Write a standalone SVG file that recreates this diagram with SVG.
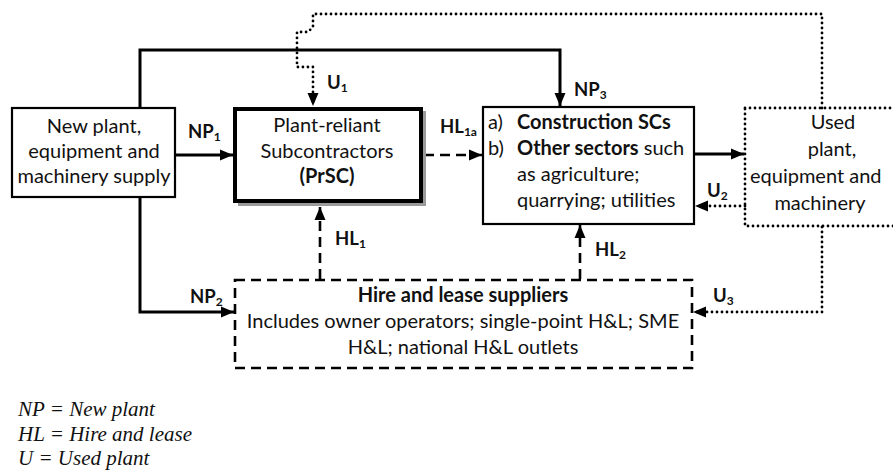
<svg xmlns="http://www.w3.org/2000/svg" width="893" height="471" viewBox="0 0 893 471">
  <defs>
    <style>
      .txt { font-family: Lato, "Open Sans", sans-serif; font-size: 20px; fill: #111; }
      .b { font-weight: bold; }
      .lbl { font-family: Lato, "Open Sans", sans-serif; font-size: 18.5px; font-weight: bold; fill: #111; }
      .sub { font-size: 12px; }
      .leg { font-family: "Liberation Serif", serif; font-style: italic; font-size: 21px; fill: #111; }
      .box { fill: #fff; stroke: #000; stroke-width: 2.2; }
      .solid { fill: none; stroke: #000; stroke-width: 3; }
      .dash { fill: none; stroke: #000; stroke-width: 2.6; stroke-dasharray: 10 6; }
      .dot { fill: none; stroke: #000; stroke-width: 2.8; stroke-dasharray: 0 5; stroke-linecap: round; }
    </style>
    <marker id="arr" markerUnits="userSpaceOnUse" markerWidth="14" markerHeight="14" viewBox="0 0 14 14" refX="13" refY="7" orient="auto">
      <path d="M0,1.5 L13,7 L0,12.5 Z" fill="#000"/>
    </marker>
  </defs>
  <rect width="893" height="471" fill="#fff"/>

  <!-- connectors -->
  <g id="connectors">
    <path class="solid" d="M140,108 V50 H560 V106" marker-end="url(#arr)"/>
    <path class="solid" d="M140,197 V312 H234" marker-end="url(#arr)"/>
    <path class="solid" d="M175,155 H233" marker-end="url(#arr)"/>
    <path class="dash" d="M424,155 H482" marker-end="url(#arr)"/>
    <path class="solid" d="M694,154 H744" marker-end="url(#arr)"/>
    <path class="dot" d="M822,108 V14 H313 V27 L308,32 H297 V67 H313 V106" marker-end="url(#arr)"/>
    <path class="dot" d="M745,206 H695" marker-end="url(#arr)"/>
    <path class="dot" d="M822,227 V312 H693" marker-end="url(#arr)"/>
    <path class="dash" d="M320,279 V207" marker-end="url(#arr)"/>
    <path class="dash" d="M580,279 V225" marker-end="url(#arr)"/>
  </g>

  <!-- connector labels -->
  <g id="labels">
    <text class="lbl" x="327" y="89">U<tspan class="sub" dy="3">1</tspan></text>
    <text class="lbl" x="188" y="138">NP<tspan class="sub" dy="3">1</tspan></text>
    <text class="lbl" x="574" y="96">NP<tspan class="sub" dy="3">3</tspan></text>
    <text class="lbl" x="440" y="133">HL<tspan class="sub" dy="3">1a</tspan></text>
    <text class="lbl" x="707" y="197">U<tspan class="sub" dy="3">2</tspan></text>
    <text class="lbl" x="335" y="245">HL<tspan class="sub" dy="3">1</tspan></text>
    <text class="lbl" x="595" y="256">HL<tspan class="sub" dy="3">2</tspan></text>
    <text class="lbl" x="190" y="303">NP<tspan class="sub" dy="3">2</tspan></text>
    <text class="lbl" x="713" y="302">U<tspan class="sub" dy="3">3</tspan></text>
  </g>

  <g id="new-plant-supply">
    <rect class="box" x="12" y="108" width="163" height="89"/>
    <text class="txt" text-anchor="middle" x="94" y="133">New plant,</text>
    <text class="txt" text-anchor="middle" x="94" y="158">equipment and</text>
    <text class="txt" text-anchor="middle" x="94" y="183">machinery supply</text>
  </g>

  <g id="prsc">
    <rect x="238" y="111" width="188" height="95" fill="#9a9a9a"/>
    <rect x="235" y="109" width="186" height="92" fill="#fff" stroke="#000" stroke-width="4"/>
    <text class="txt" text-anchor="middle" x="327" y="132">Plant-reliant</text>
    <text class="txt" text-anchor="middle" x="327" y="158">Subcontractors</text>
    <text class="txt b" text-anchor="middle" x="327" y="183">(PrSC)</text>
  </g>

  <g id="construction">
    <rect class="box" x="483" y="107" width="211" height="117"/>
    <text class="txt" x="488" y="129">a)</text>
    <text class="txt b" x="517" y="129">Construction SCs</text>
    <text class="txt" x="488" y="155">b)</text>
    <text class="txt" x="517" y="155"><tspan class="b">Other sectors</tspan> such</text>
    <text class="txt" x="517" y="181">as agriculture;</text>
    <text class="txt" x="517" y="207">quarrying; utilities</text>
  </g>

  <g id="used-plant">
    <rect class="dot" x="745" y="108" width="160" height="118"/>
    <text class="txt" text-anchor="middle" x="833" y="129">Used</text>
    <text class="txt" text-anchor="middle" x="832" y="156">plant,</text>
    <text class="txt" x="750" y="183">equipment and</text>
    <text class="txt" text-anchor="middle" x="820" y="210">machinery</text>
  </g>

  <g id="hire-lease">
    <rect class="dash" x="235" y="280" width="457" height="88"/>
    <text class="txt b" text-anchor="middle" x="463" y="302">Hire and lease suppliers</text>
    <text class="txt" text-anchor="middle" x="463" y="328">Includes owner operators; single-point H&amp;L; SME</text>
    <text class="txt" text-anchor="middle" x="463" y="354">H&amp;L; national H&amp;L outlets</text>
  </g>

  <g id="legend">
    <text class="leg" x="18" y="416">NP = New plant</text>
    <text class="leg" x="18" y="441">HL = Hire and lease</text>
    <text class="leg" x="18" y="465">U = Used plant</text>
  </g>
</svg>
